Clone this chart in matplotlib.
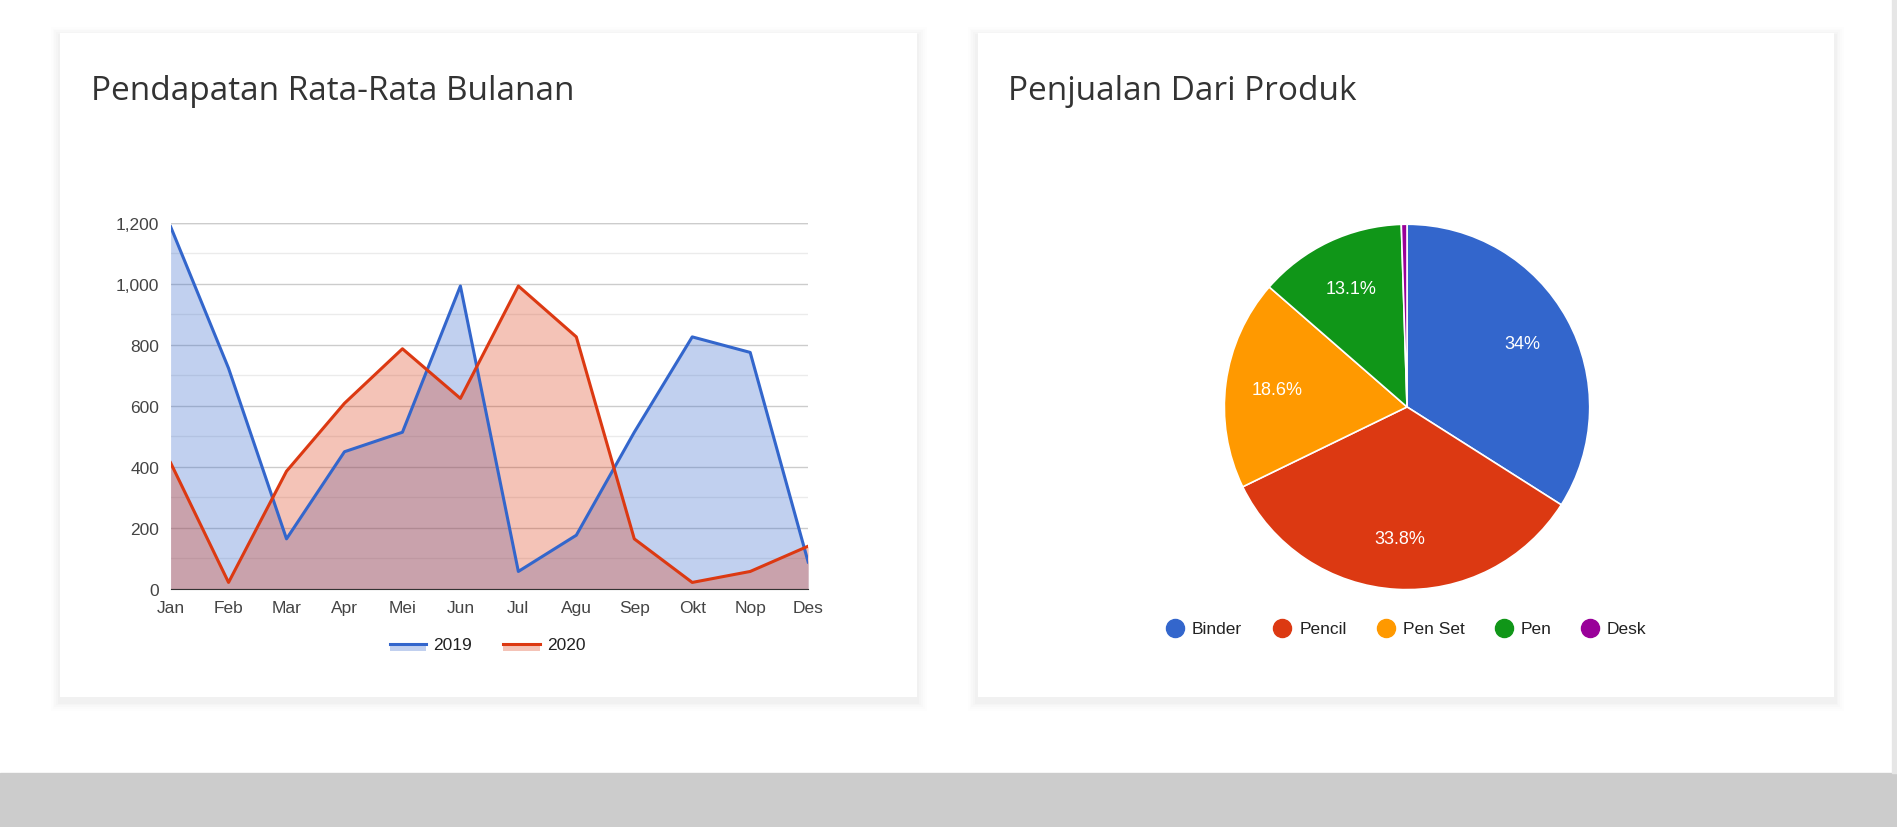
import matplotlib
matplotlib.use("Agg")
import matplotlib.pyplot as plt
from matplotlib.patches import Rectangle
from matplotlib.lines import Line2D

months = ["Jan","Feb","Mar","Apr","Mei","Jun","Jul","Agu","Sep","Okt","Nop","Des"]
rev_2019 = [1188, 723, 163, 449, 513, 993, 56, 175, 513, 826, 775, 87]
rev_2020 = [413, 20, 385, 608, 787, 624, 993, 826, 163, 20, 56, 139]
products = ["Binder", "Pencil", "Pen Set", "Pen", "Desk"]
shares = [34.0, 33.8, 18.6, 13.1, 0.5]
pie_colors = ["#3366cc", "#dc3912", "#ff9900", "#109618", "#990099"]

W, H = 1568, 684
fig = plt.figure(figsize=(18.97, 8.28), dpi=100)
fig.patch.set_facecolor("white")

def fx(x): return x / W
def fy(y): return 1 - y / H

fig.patches.append(Rectangle((0, 0), 1, fy(639), transform=fig.transFigure, color="#cccccc", zorder=0))
fig.patches.append(Rectangle((fx(1564), fy(639)), 1, 1, transform=fig.transFigure, color="#e6e6e6", zorder=0))
for x0 in (50, 808):
    for i, a in enumerate([0.006, 0.008, 0.01, 0.012, 0.015]):
        d = 8 - i * 1.5
        fig.patches.append(Rectangle((fx(x0 - d), fy(577 + d + 3)), fx(708 + 2 * d), (549 + 2 * d) / H,
                                     transform=fig.transFigure, color="black", alpha=a, lw=0, zorder=1))
    fig.patches.append(Rectangle((fx(x0), fy(577)), fx(708), 549 / H, transform=fig.transFigure,
                                 color="white", lw=0, zorder=2))

fig.text(fx(75), fy(76), "Pendapatan Rata-Rata Bulanan", fontsize=24, family="Open Sans",
         color="#333333", va="center", zorder=5)
fig.text(fx(833), fy(76), "Penjualan Dari Produk", fontsize=24, family="Open Sans",
         color="#333333", va="center", zorder=5)

ax = fig.add_axes([fx(141), fy(487), fx(527), 302 / H], zorder=5)
ax.set_facecolor("none")
x = range(len(months))
ax.fill_between(x, rev_2019, color="#3366cc", alpha=0.3, lw=0)
ax.fill_between(x, rev_2020, color="#dc3912", alpha=0.3, lw=0)
ax.plot(x, rev_2019, color="#3366cc", lw=2.2)
ax.plot(x, rev_2020, color="#dc3912", lw=2.2)
ax.set_xlim(0, 11)
ax.set_ylim(0, 1200)
ax.set_yticks(range(0, 1201, 200))
ax.set_yticklabels([f"{v:,}" for v in range(0, 1201, 200)])
ax.set_yticks(range(100, 1200, 200), minor=True)
ax.set_xticks(list(x))
ax.set_xticklabels(months)
ax.grid(axis="y", which="major", color="#cccccc", lw=1)
ax.grid(axis="y", which="minor", color="#ebebeb", lw=1)
ax.set_axisbelow(True)
for s in ("top", "right", "left"):
    ax.spines[s].set_visible(False)
ax.spines["bottom"].set_color("#333333")
ax.tick_params(which="both", length=0, labelsize=12.5, colors="#444444", pad=8)
for t in ax.get_xticklabels() + ax.get_yticklabels():
    t.set_family("Liberation Sans")
ax.axhline(1200, color="#cccccc", lw=1)

for lx, col, lab in [(322, "#3366cc", "2019"), (416, "#dc3912", "2020")]:
    fig.patches.append(Rectangle((fx(lx), fy(539)), fx(30), 6 / H, transform=fig.transFigure,
                                 color=col, alpha=0.3, lw=0, zorder=6))
    fig.lines.append(Line2D([fx(lx), fx(lx + 30)], [fy(533), fy(533)], transform=fig.transFigure,
                            color=col, lw=2.2, zorder=7))
    fig.text(fx(lx + 36), fy(533), lab, fontsize=12.5, family="Liberation Sans",
             color="#222222", va="center", zorder=7)

pax = fig.add_axes([fx(1012), fy(488), fx(302), 302 / H], zorder=5)
def fmt(p):
    if p < 1:
        return ""
    return f"{p:.0f}%" if abs(p - round(p)) < 0.05 else f"{p:.1f}%"
pax.pie(shares, colors=pie_colors, startangle=90, counterclock=False, autopct=fmt,
        pctdistance=0.72, radius=1, wedgeprops=dict(edgecolor="white", linewidth=1.2),
        textprops=dict(color="white", fontsize=13, family="Liberation Sans"))
pax.set_xlim(-1, 1)
pax.set_ylim(-1, 1)
pax.set_aspect("equal")

for lx, col, lab in [(971, pie_colors[0], "Binder"), (1060, pie_colors[1], "Pencil"),
                     (1146, pie_colors[2], "Pen Set"), (1243, pie_colors[3], "Pen"),
                     (1314, pie_colors[4], "Desk")]:
    fig.lines.append(Line2D([fx(lx)], [fy(520)], transform=fig.transFigure, marker="o",
                            markersize=13, color=col, lw=0, zorder=7))
    fig.text(fx(lx + 14), fy(520), lab, fontsize=12.5, family="Liberation Sans",
             color="#222222", va="center", zorder=7)

fig.savefig("out.png", dpi=100)
